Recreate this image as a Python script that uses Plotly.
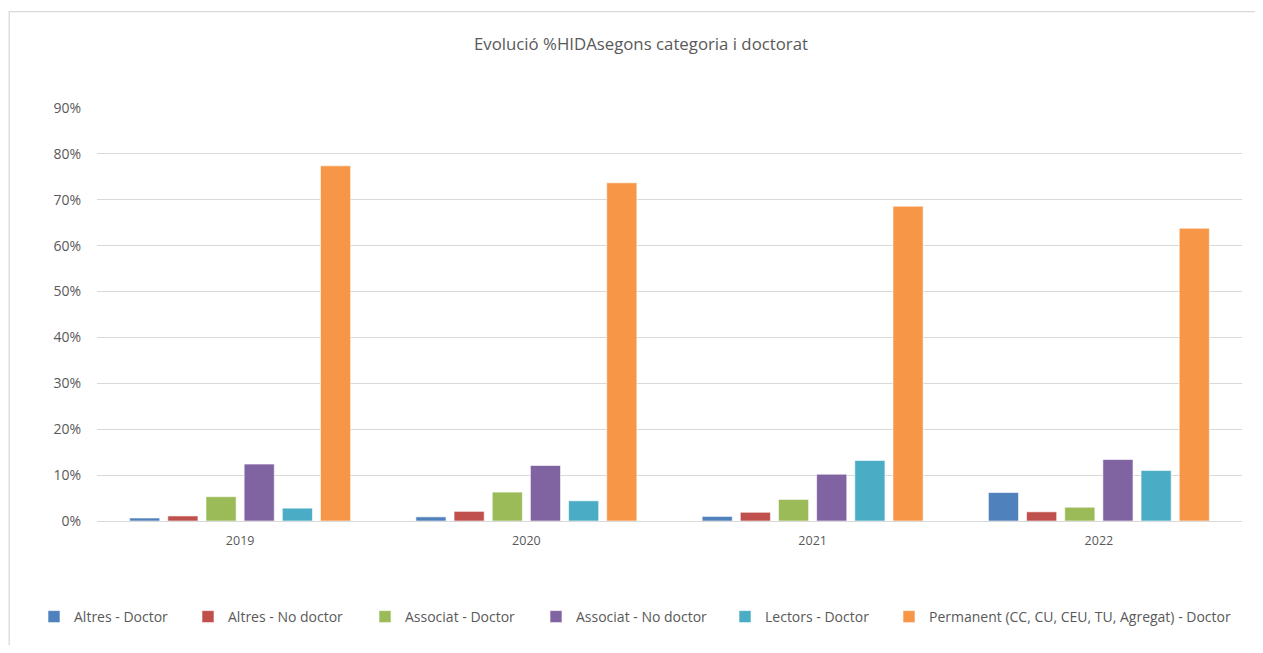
import plotly.graph_objects as go

years = ["2019", "2020", "2021", "2022"]

series_names = [
    "Altres - Doctor",
    "Altres - No doctor",
    "Associat - Doctor",
    "Associat - No doctor",
    "Lectors - Doctor",
    "Permanent (CC, CU, CEU, TU, Agregat) - Doctor",
]

# percentages per year
altres_doctor = [0.65, 0.9, 1.0, 6.2]
altres_no_doctor = [1.1, 2.1, 1.9, 2.0]
associat_doctor = [5.3, 6.3, 4.7, 3.0]
associat_no_doctor = [12.4, 12.1, 10.2, 13.4]
lectors_doctor = [2.8, 4.4, 13.2, 11.0]
permanent_doctor = [77.4, 73.7, 68.6, 63.8]

series_values = [altres_doctor, altres_no_doctor, associat_doctor,
                 associat_no_doctor, lectors_doctor, permanent_doctor]
colors = ["#4F81BD", "#C0504D", "#9BBB59", "#8064A2", "#4BACC6", "#F79646"]

y_ticks = [0, 10, 20, 30, 40, 50, 60, 70, 80, 90]
y_tick_labels = [f"{v}%" for v in y_ticks]

# page body adds 8px margin, so the figure is 16px smaller than the window
W, H = 1247, 637
ml, mr, mt, mb = 89, 13, 100, 124
pw, ph = W - ml - mr, H - mt - mb

# left edge (px) of each legend entry's text, spread like the Excel legend
legend_text_x = [66, 220, 397, 568, 757, 921]

fig = go.Figure()
for i, (name, vals, col) in enumerate(zip(series_names, series_values, colors)):
    fig.add_trace(go.Bar(
        x=years, y=vals, name=name, showlegend=True,
        legend="legend" if i == 0 else f"legend{i + 1}",
        marker=dict(color=col, line=dict(color="white", width=0.6)),
    ))

legends = {}
for i, tx in enumerate(legend_text_x):
    key = "legend" if i == 0 else f"legend{i + 1}"
    legends[key] = dict(
        orientation="h", xref="container", x=(tx - 40) / W, xanchor="left",
        yref="container", y=1 - 609 / H, yanchor="middle",
        font=dict(size=14, color="#595959"), itemwidth=30,
        bgcolor="rgba(0,0,0,0)",
    )

# outer chart frame (right and bottom edges fall outside the picture)
fig.add_shape(type="rect", xref="paper", yref="paper",
              x0=(1.2 - ml) / pw, x1=(1290 - ml) / pw,
              y0=(H - mb - 700) / ph, y1=(H - mb - 3.7) / ph,
              line=dict(color="#D9D9D9", width=1.3), layer="below")

fig.update_layout(
    width=W, height=H,
    margin=dict(l=ml, r=mr, t=mt, b=mb),
    paper_bgcolor="white", plot_bgcolor="white",
    showlegend=True,
    font=dict(family="Open Sans, Liberation Sans, sans-serif", size=13, color="#595959"),
    title=dict(text="Evolució %HIDAsegons categoria i doctorat",
               x=(641 - 8) / W, xanchor="center", y=1 - 36 / H, yanchor="middle",
               font=dict(size=16.8, color="#595959")),
    barmode="group", bargap=0.2, bargroupgap=0.21,
    xaxis=dict(showline=True, linecolor="#D9D9D9", linewidth=1.3,
               ticks="", tickfont=dict(size=12.5), ticklabelstandoff=8),
    yaxis=dict(range=[0, 90], tickvals=y_ticks, ticktext=y_tick_labels,
               showgrid=True, gridcolor="#D9D9D9", gridwidth=1.3,
               zeroline=False, ticks="", ticklabelstandoff=15,
               tickfont=dict(size=14)),
    **legends,
)

fig.write_html("out.html")
